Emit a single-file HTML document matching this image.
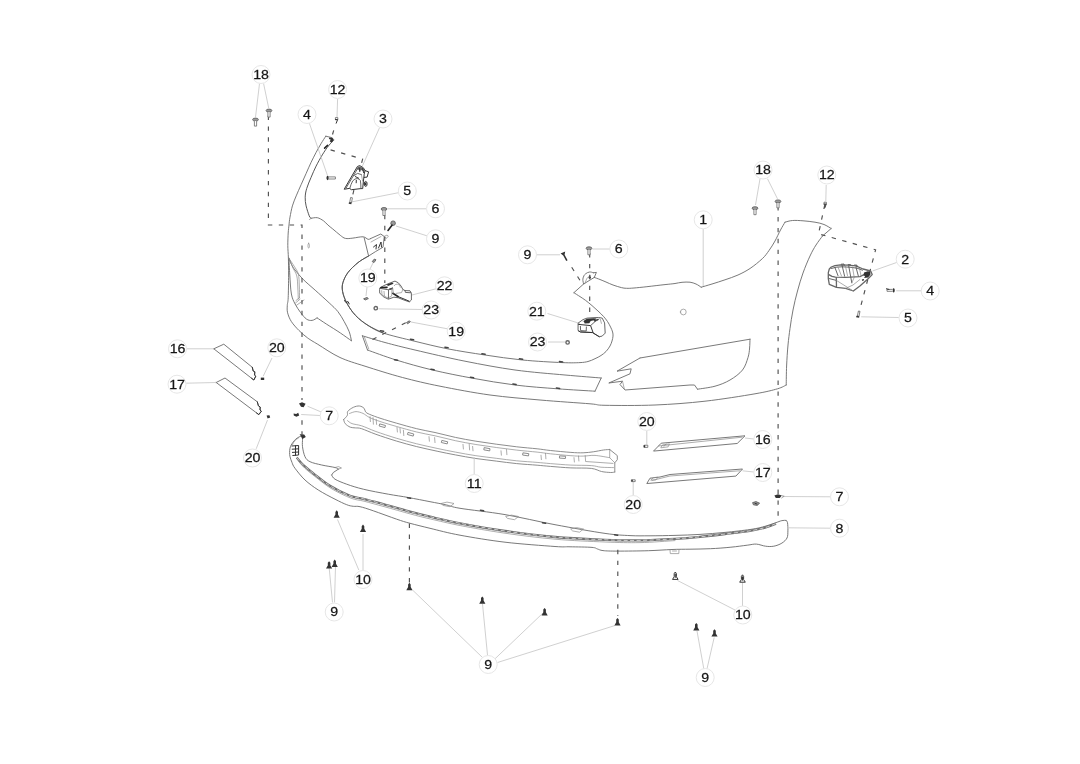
<!DOCTYPE html>
<html><head><meta charset="utf-8"><title>Front bumper parts diagram</title>
<style>
html,body{margin:0;padding:0;background:#fff}
svg{display:block;filter:grayscale(1)}
text{font-family:"Liberation Sans",Arial,Helvetica,sans-serif;font-size:13.5px;fill:#161616;stroke:#161616;stroke-width:0.25px;text-anchor:middle}
.lc{fill:#fff;stroke:#e6e6e6;stroke-width:1}
.ld{stroke:#cbcbcb;stroke-width:0.9;fill:none}
.ds{stroke:#505050;stroke-width:1.15;fill:none;stroke-dasharray:4.4 6.5}
.m{stroke:#6a6a6a;stroke-width:0.9;fill:none;stroke-linejoin:round;stroke-linecap:round}
.g{stroke:#808080;stroke-width:0.9;fill:none;stroke-linejoin:round;stroke-linecap:round}
.t{stroke:#8a8a8a;stroke-width:0.7;fill:none;stroke-linejoin:round;stroke-linecap:round}
.k{stroke:#333;stroke-width:1;fill:none;stroke-linejoin:round;stroke-linecap:round}
.f{fill:#333;stroke:none}
.so{fill:#fff;stroke:#333;stroke-width:1;stroke-linejoin:round}
.f2{fill:#666;stroke:none}
.bh{fill:#9a9a9a;stroke:#555;stroke-width:0.8;stroke-linejoin:round}
.bs{fill:#fff;stroke:#666;stroke-width:0.8;stroke-linejoin:round}
.w{fill:#fff;stroke:#666;stroke-width:1.4}
.kk{stroke:#222;stroke-width:1.6;fill:none;stroke-linejoin:round;stroke-linecap:round}
.k3{stroke:#666;stroke-width:1.3;fill:none;stroke-linejoin:round;stroke-linecap:round}
.k2{stroke:#555;stroke-width:0.9;fill:none;stroke-linejoin:round;stroke-linecap:round}
.c{stroke:#444;stroke-width:1.5;fill:none;stroke-linecap:round}
.s1{stroke:#707070;stroke-width:2.3;fill:none;stroke-linejoin:round}
.s2{stroke:#e4e4e4;stroke-width:0.8;fill:none;stroke-dasharray:4 2.5}
.m2{stroke:#555;stroke-width:1;fill:none;stroke-linejoin:round;stroke-linecap:round}
</style></head><body>
<svg width="1080" height="764" viewBox="0 0 1080 764">
<rect width="1080" height="764" fill="#fff"/>

<path class="m" d="M325.8 136.2L332.2 137.7L333.5 140.0"/>
<path class="m" d="M325.8 136.2C325.0 137.4 322.6 141.0 321.0 143.7C319.4 146.4 317.8 149.3 316.1 152.4C314.5 155.5 312.8 158.8 311.1 162.3C309.4 165.8 307.8 169.8 306.1 173.5C304.4 177.2 302.8 181.0 301.1 184.7C299.5 188.4 297.6 192.4 296.2 195.9C294.8 199.4 293.4 202.4 292.4 205.9C291.4 209.4 290.6 213.9 290.0 217.1C289.4 220.3 289.3 222.3 289.0 225.0C288.7 227.7 288.4 229.6 288.2 233.0C288.0 236.4 287.8 241.2 287.8 245.4C287.8 249.6 288.3 253.1 288.4 258.0C288.5 262.9 288.6 268.4 288.6 275.0C288.6 281.6 288.4 292.8 288.2 297.8C288.0 302.9 287.4 302.8 287.3 305.3C287.2 307.8 286.9 310.1 287.6 312.8C288.3 315.5 289.5 318.7 291.4 321.6C293.3 324.5 296.2 327.7 298.9 330.4C301.6 333.1 304.5 335.7 307.7 338.0C310.9 340.3 312.4 341.1 317.8 344.3C323.2 347.6 332.1 353.9 340.0 357.5C347.9 361.1 354.6 362.9 365.0 366.2C375.4 369.5 390.0 374.2 402.5 377.5C415.0 380.8 425.4 383.3 440.0 386.2C454.6 389.1 473.3 392.7 490.0 395.0C506.7 397.3 523.3 398.5 540.0 400.0C556.7 401.5 579.2 402.9 590.0 403.8C600.8 404.7 594.2 405.1 605.0 405.3C615.8 405.5 638.3 405.7 655.0 405.0C671.7 404.3 688.3 403.1 705.0 401.2C721.7 399.3 742.9 395.9 755.0 393.8C767.1 391.7 772.3 390.3 777.5 388.8C782.7 387.3 784.8 385.6 786.2 385.0"/>
<path class="m" d="M786.2 385.0C786.3 381.8 786.3 372.7 786.6 366.0C786.9 359.3 787.4 351.2 788.0 345.0C788.6 338.8 789.2 334.3 790.0 328.5C790.8 322.7 791.8 316.2 793.0 310.0C794.2 303.8 795.8 297.2 797.5 291.0C799.2 284.8 800.9 278.8 803.0 273.0C805.1 267.2 807.8 260.7 810.0 256.0C812.2 251.3 813.9 248.3 816.0 245.0C818.1 241.7 821.4 237.5 822.5 236.0"/>
<path class="m" d="M822.5 236.0L831.2 228.5"/>
<path class="m" d="M831.2 228.5C830.0 227.8 826.7 225.6 824.0 224.5C821.3 223.4 818.5 222.8 815.0 222.2C811.5 221.6 806.8 221.1 803.0 220.8C799.2 220.5 795.5 220.3 792.5 220.5C789.5 220.7 786.2 221.9 785.0 222.2"/>
<path class="m" d="M785.0 222.2C784.2 223.5 782.2 226.9 780.5 230.0C778.8 233.1 776.9 237.6 775.0 241.0C773.1 244.4 771.1 247.6 769.0 250.5C766.9 253.4 765.7 255.5 762.5 258.5C759.3 261.5 754.1 265.8 750.0 268.5C745.9 271.2 742.2 273.1 738.0 275.0C733.8 276.9 729.3 278.3 725.0 279.8C720.7 281.3 716.0 282.8 712.0 284.0C708.0 285.2 703.0 286.7 701.2 287.2"/>
<path class="m" d="M701.2 287.2C700.3 286.7 697.9 284.8 696.0 284.0C694.1 283.2 692.3 282.5 690.0 282.2C687.7 281.9 684.5 282.1 682.0 282.3C679.5 282.5 677.8 283.1 675.0 283.5C672.2 283.9 669.7 284.1 665.0 284.6C660.3 285.1 652.1 286.1 646.9 286.7C641.7 287.3 637.4 287.7 634.0 288.0C630.6 288.3 628.6 288.4 626.5 288.3C624.4 288.2 623.6 288.2 621.4 287.6C619.1 287.1 615.6 285.9 613.0 285.0C610.4 284.1 608.2 282.9 606.0 282.0C603.8 281.1 602.0 280.3 600.0 279.5C598.0 278.7 595.2 277.8 594.3 277.4"/>
<path class="m" d="M594.3 277.4L583.6 284.0L573.9 292.7"/>
<path class="m" d="M583.6 284.0C583.5 283.4 583.0 281.5 582.9 280.5C582.8 279.5 582.9 278.7 583.1 277.9C583.3 277.1 583.6 276.3 584.0 275.6C584.4 274.9 585.0 274.3 585.6 273.8C586.2 273.3 586.8 272.9 587.5 272.6C588.2 272.3 589.0 272.1 589.7 272.0C590.4 271.9 591.0 272.1 591.6 272.2C592.2 272.3 593.0 272.7 593.3 272.8"/>
<path class="m" d="M593.3 272.8L596.4 272.4L594.3 277.4"/>
<path class="t" d="M585.0 283.2L586.8 278.4L590.4 275.6"/>
<path class="f" d="M588.6 277.4a1.2 1.2 0 1 0 2.4 0a1.2 1.2 0 1 0 -2.4 0z"/>
<path class="m" d="M573.9 292.7C574.9 293.4 578.0 295.3 580.0 296.6C582.0 297.9 583.6 298.9 585.6 300.4C587.6 301.9 589.9 303.8 592.0 305.6C594.1 307.4 596.1 309.2 598.0 311.0C599.9 312.8 601.8 314.6 603.4 316.3C605.0 318.1 606.3 319.7 607.5 321.5C608.7 323.3 609.8 325.4 610.6 327.1C611.5 328.9 612.2 330.5 612.6 332.0C613.0 333.5 613.1 334.6 613.0 336.1C612.9 337.6 612.5 339.4 612.0 341.0C611.5 342.6 611.0 344.2 610.0 346.0C609.0 347.8 607.5 349.9 606.0 351.5C604.5 353.1 602.8 354.3 601.0 355.5C599.2 356.7 597.2 357.7 595.0 358.7C592.8 359.7 590.5 360.9 588.0 361.5C585.5 362.1 584.2 362.4 580.0 362.6C575.8 362.8 572.1 363.0 562.5 362.6C552.9 362.2 535.4 361.3 522.5 360.0C509.6 358.7 497.5 356.9 485.0 355.0C472.5 353.1 459.2 351.1 447.5 348.8C435.8 346.5 425.7 343.9 415.0 341.3C404.3 338.7 390.9 335.6 383.1 333.0C375.3 330.4 372.6 328.3 368.0 325.4C363.4 322.5 359.1 319.2 355.5 315.4C351.9 311.6 348.8 306.8 346.7 302.8C344.6 298.8 343.2 294.9 342.6 291.5C342.0 288.1 342.0 285.8 342.9 282.7C343.8 279.6 345.4 276.0 347.9 272.6C350.4 269.2 354.6 265.4 358.0 262.6C361.4 259.8 366.8 257.1 368.6 256.0"/>
<path class="m2" d="M383.1 333.0C380.6 331.7 372.6 328.3 368.0 325.4C363.4 322.5 359.1 319.2 355.5 315.4C351.9 311.6 348.8 306.8 346.7 302.8C344.6 298.8 343.2 294.9 342.6 291.5C342.0 288.1 342.0 285.8 342.9 282.7C343.8 279.6 345.4 276.0 347.9 272.6C350.4 269.2 354.6 265.4 358.0 262.6C361.4 259.8 366.8 257.1 368.6 256.0"/>
<path class="m" d="M364.2 237.8L368.6 256.0L375.5 251.6L383.0 247.2L384.3 236.6L380.8 234.0L370.5 238.6"/>
<path class="t" d="M371.0 242.0L381.0 236.5"/>
<path class="k" d="M373.5 247.0L376.5 244.5L376.0 249.0"/>
<path class="k" d="M378.5 248.0L381.0 242.0L381.5 247.0"/>
<path class="t" d="M384.5 236.2l2.6-1.2l1.3 1.4l-2 1.8z"/>
<path class="m2" d="M333.5 140.0C332.5 141.2 329.2 144.9 327.3 147.4C325.4 149.9 324.2 151.8 322.3 154.9C320.4 158.0 318.0 162.4 316.1 166.1C314.2 169.8 312.7 173.6 311.1 177.3C309.5 181.0 307.7 185.2 306.7 188.5C305.7 191.8 305.3 194.3 305.2 197.2C305.1 200.1 305.4 202.8 306.1 205.9C306.8 209.0 308.4 213.7 309.2 215.8C310.0 217.9 310.8 217.9 311.1 218.3"/>
<path class="f" d="M329.3 137.4l3.6 0.8l0.6 2.2l-1.6 2.2l-2.2-1.2l1-1.8l-1.8-0.6z"/>
<path class="kk" d="M324.6 148.2L327.6 145.4"/>
<path class="m" d="M311.1 218.3C312.1 218.2 315.2 217.3 317.3 217.7C319.4 218.1 321.7 219.6 323.5 220.8C325.3 222.0 326.3 223.6 327.9 225.0C329.4 226.4 330.7 227.3 332.8 229.0C334.9 230.7 338.2 233.7 340.3 235.3C342.4 236.9 343.3 237.9 345.4 238.4C347.5 238.9 350.0 238.4 352.9 238.1C355.8 237.8 360.5 236.6 363.0 236.8C365.5 237.0 366.8 239.0 368.0 239.3C369.2 239.6 370.1 238.7 370.5 238.6"/>
<path class="t" d="M311.1 218.3L309.4 219.6"/>
<path class="t" d="M308.7 243.2c1 0 1.1 4.8 0 4.8c-1.1 0-1-4.8 0-4.8z"/>
<path class="m" d="M288.9 258.2C289.3 259.2 290.5 262.5 291.5 264.5C292.5 266.5 293.1 267.6 295.1 270.1C297.1 272.6 300.0 276.1 303.3 279.5C306.6 282.9 310.9 286.3 315.2 290.2C319.5 294.1 325.3 299.2 329.1 302.8C332.9 306.4 335.4 308.5 337.9 311.6C340.4 314.7 342.3 318.2 344.2 321.6C346.1 325.0 348.0 328.6 349.2 331.7C350.4 334.8 351.0 339.0 351.4 340.5"/>
<path class="m" d="M351.4 340.8C349.6 339.5 344.5 335.8 340.4 333.0C336.3 330.2 330.5 326.7 326.6 324.2C322.7 321.7 318.7 318.9 317.1 317.9"/>
<path class="m" d="M317.1 317.9C316.3 318.3 313.9 320.2 312.1 320.4C310.3 320.6 308.4 320.4 306.5 319.1C304.6 317.8 302.7 315.3 300.8 312.8C298.9 310.3 296.7 307.1 295.1 304.0C293.5 300.9 292.3 298.8 291.4 294.0C290.5 289.2 290.2 281.1 289.8 275.1C289.4 269.1 289.0 261.0 288.9 258.2"/>
<path class="t" d="M288.9 258.2C289.8 259.5 292.4 263.4 294.0 266.0C295.6 268.6 297.4 270.6 298.3 273.9C299.2 277.2 299.1 282.0 299.3 286.0C299.5 290.0 299.5 295.8 299.5 297.8"/>
<path class="t" d="M288.9 258.2C289.6 259.8 291.7 265.0 293.0 268.0C294.3 271.0 296.0 272.7 296.8 276.0C297.6 279.3 297.6 284.2 297.8 288.0C298.1 291.8 298.2 297.2 298.3 299.0"/>
<path class="t" d="M295.5 303.0L300.0 299.2"/>
<path class="t" d="M296.6 305.2L304.0 300.0"/>
<path class="t" d="M299.5 297.8L296.0 300.5"/>
<path class="t" d="M680.4 312a2.9 2.9 0 1 0 5.8 0a2.9 2.9 0 1 0 -5.8 0z"/>
<path class="m" d="M640.0 358.0L750.0 339.2"/>
<path class="m" d="M750.0 339.2C749.9 340.7 749.9 344.9 749.6 348.0C749.3 351.1 749.2 353.8 748.0 357.5C746.8 361.2 745.5 366.2 742.5 370.0C739.5 373.8 734.6 377.3 730.0 380.0C725.4 382.7 720.4 384.7 715.0 386.2C709.6 387.7 700.4 388.7 697.5 389.2"/>
<path class="m" d="M697.5 389.2L694.5 385.0L690.0 385.0L625.0 390.0L620.0 384.5L622.5 381.2L608.8 383.0L630.0 373.8L631.2 368.8L617.0 371.2L640.0 358.0"/>
<path class="t" d="M622.5 381.2L624.5 389.5"/>
<path class="m" d="M362.4 335.8C366.2 336.9 376.2 340.1 385.0 342.5C393.8 344.9 401.7 346.9 415.0 350.0C428.3 353.1 448.3 357.9 465.0 361.2C481.7 364.5 498.3 367.7 515.0 370.0C531.7 372.3 550.6 373.7 565.0 375.0C579.4 376.3 595.2 377.5 601.2 378.0"/>
<path class="m" d="M595.0 391.2C588.8 390.8 570.8 389.8 557.5 388.8C544.2 387.8 529.2 386.8 515.0 385.0C500.8 383.2 486.2 380.7 472.5 378.2C458.8 375.7 445.2 373.0 432.5 370.0C419.8 367.0 407.0 363.3 396.2 360.0C385.4 356.7 372.3 351.7 367.5 350.0"/>
<path class="m" d="M601.2 378.0L595.0 391.2"/>
<path class="m" d="M362.4 335.8L367.5 350.0"/>
<path class="t" d="M364.4 337.0L368.8 349.0"/>
<path class="c" d="M380.4 330.7L383.6 331.3"/>
<path class="c" d="M410.4 339.2L413.6 339.8"/>
<path class="c" d="M444.9 347.2L448.1 347.8"/>
<path class="c" d="M481.9 353.7L485.1 354.3"/>
<path class="c" d="M519.4 358.7L522.6 359.3"/>
<path class="c" d="M559.4 361.5L562.6 362.1"/>
<path class="c" d="M394.4 359.7L397.6 360.3"/>
<path class="c" d="M430.9 369.2L434.1 369.8"/>
<path class="c" d="M470.4 377.2L473.6 377.8"/>
<path class="c" d="M512.9 384.0L516.1 384.6"/>
<path class="c" d="M556.4 388.0L559.6 388.6"/>
<path class="k" d="M344.5 300.5l1.5 2.2l2-1.2l1.2 2.4"/>
<path class="g" d="M343.7 419.5C344.3 418.8 346.6 416.8 347.3 415.4C348.0 414.0 346.8 412.6 347.8 411.3C348.8 410.0 351.4 408.2 353.4 407.3C355.3 406.4 357.7 405.8 359.5 406.0C361.3 406.2 363.1 407.3 364.1 408.3C365.1 409.3 364.7 410.9 365.6 411.9C366.5 412.9 367.1 413.3 369.7 414.4C372.3 415.5 376.6 417.1 381.0 418.5C385.4 419.9 390.4 421.4 396.3 423.1C402.2 424.8 410.2 427.1 416.7 428.7C423.1 430.3 428.6 431.1 435.0 432.5C441.4 433.9 448.6 435.9 455.4 437.4C462.2 438.8 469.1 440.1 475.9 441.2C482.7 442.3 489.5 443.3 496.3 444.2C503.1 445.1 509.9 446.0 516.7 446.8C523.5 447.6 531.5 448.2 537.1 448.8C542.7 449.4 544.8 449.9 550.4 450.5C556.0 451.1 565.4 452.0 570.9 452.4C576.4 452.8 579.4 452.9 583.1 452.8C586.8 452.7 589.9 452.3 593.3 451.8C596.7 451.3 600.8 450.4 603.5 450.0C606.2 449.6 608.7 449.6 609.7 449.5"/>
<path class="g" d="M609.7 449.5L617.3 455.6L617.3 459.7L614.8 462.8L614.8 472.0"/>
<path class="g" d="M343.7 419.5C343.9 420.2 344.1 422.3 345.2 423.6C346.3 424.9 348.6 426.5 350.3 427.2C352.0 427.9 353.5 427.6 355.4 427.9C357.3 428.1 358.2 427.6 361.6 428.7C365.0 429.8 370.1 432.2 375.9 434.3C381.7 436.4 389.5 438.9 396.3 441.0C403.1 443.1 409.9 444.9 416.7 446.6C423.5 448.3 430.7 449.8 437.1 451.2C443.6 452.6 448.9 453.7 455.4 454.9C461.9 456.1 469.1 457.5 475.9 458.5C482.7 459.5 489.5 460.2 496.3 461.1C503.1 462.0 509.9 462.9 516.7 463.6C523.5 464.3 531.5 464.7 537.1 465.2C542.7 465.7 544.8 465.9 550.4 466.4C556.0 466.8 564.1 467.6 570.9 467.9C577.7 468.2 586.2 467.8 591.3 468.4C596.4 469.0 598.3 470.8 601.5 471.5C604.7 472.2 608.5 472.4 610.7 472.5C612.9 472.6 614.1 472.1 614.8 472.0"/>
<path class="t" d="M349.5 413.5C350.6 413.2 353.8 411.6 356.0 411.6C358.2 411.6 360.7 412.4 363.0 413.4C365.3 414.4 366.7 416.2 369.7 417.6C372.7 419.0 376.6 420.3 381.0 421.8C385.4 423.3 390.4 424.7 396.3 426.4C402.2 428.1 410.2 430.4 416.7 432.0C423.1 433.6 428.6 434.4 435.0 435.8C441.4 437.2 448.6 439.2 455.4 440.7C462.2 442.1 469.1 443.4 475.9 444.5C482.7 445.6 489.5 446.6 496.3 447.5C503.1 448.4 509.9 449.3 516.7 450.1C523.5 450.9 531.5 451.5 537.1 452.1C542.7 452.7 544.8 453.2 550.4 453.8C556.0 454.4 565.4 455.3 570.9 455.7C576.4 456.1 579.1 456.2 583.1 456.1C587.1 456.1 590.6 455.1 595.0 455.4C599.4 455.7 607.2 457.3 609.7 457.7"/>
<path class="t" d="M347.5 420.6C348.2 421.1 349.6 422.7 352.0 423.6C354.4 424.5 357.6 424.5 361.6 425.8C365.6 427.1 370.1 429.4 375.9 431.5C381.7 433.6 389.5 436.1 396.3 438.2C403.1 440.2 409.9 442.1 416.7 443.8C423.5 445.5 430.7 447.0 437.1 448.4C443.6 449.8 448.9 450.9 455.4 452.1C461.9 453.3 469.1 454.7 475.9 455.7C482.7 456.7 489.5 457.4 496.3 458.3C503.1 459.2 509.9 460.1 516.7 460.8C523.5 461.5 531.5 461.9 537.1 462.4C542.7 462.9 544.8 463.1 550.4 463.6C556.0 464.0 564.1 464.8 570.9 465.1C577.7 465.4 586.3 465.2 591.3 465.6C596.3 465.9 597.3 466.9 601.0 467.2C604.7 467.5 611.4 467.5 613.5 467.6"/>
<path class="t" d="M585.2 455.6L585.6 461.5L613.0 463.4"/>
<path class="t" d="M609.7 449.5L609.7 457.7L614.8 462.8"/>
<path class="g" d="M380.1 424.0L385.5 425.5L384.9 427.6L379.5 426.1Z"/>
<path class="g" d="M408.4 432.5L413.8 434.0L413.2 436.1L407.8 434.6Z"/>
<path class="g" d="M442.2 440.5L447.7 441.8L447.2 443.9L441.7 442.6Z"/>
<path class="g" d="M484.5 447.7L490.0 448.7L489.7 450.9L484.2 449.9Z"/>
<path class="g" d="M523.3 452.9L528.8 453.7L528.5 455.9L523.0 455.1Z"/>
<path class="g" d="M560.0 455.9L565.6 456.3L565.4 458.5L559.8 458.1Z"/>
<path class="t" d="M370 416.6l0.4 5"/>
<path class="t" d="M373 417.6l0.4 6.6"/>
<path class="t" d="M376.2 419.4l0.4 5"/>
<path class="t" d="M397 427.4l0.4 4.6"/>
<path class="t" d="M400 428.4l0.4 4.6"/>
<path class="t" d="M403.4 430.2l0.4 5.4"/>
<path class="t" d="M429 436.6l0.4 4.6"/>
<path class="t" d="M434.6 437.6l0.4 5"/>
<path class="t" d="M463 444.4l0.4 4.6"/>
<path class="t" d="M469.2 443.9l0.4 6"/>
<path class="t" d="M472.6 446.4l0.4 4.4"/>
<path class="t" d="M501 450.8l0.4 4.4"/>
<path class="t" d="M506.5 449.5l0.4 5.2"/>
<path class="t" d="M541 455.2l0.4 4.4"/>
<path class="t" d="M545.5 453.4l0.4 5.4"/>
<path class="t" d="M574 457.6l0.4 4.4"/>
<path class="t" d="M578.5 456l0.4 5"/>
<path class="m" d="M301.7 435.8C301.0 436.1 298.8 437.0 297.5 437.8C296.2 438.6 295.2 439.6 294.2 440.8C293.1 442.0 291.9 443.8 291.2 445.0C290.5 446.2 290.3 447.1 290.0 448.3C289.7 449.6 289.6 451.1 289.6 452.5C289.6 453.9 289.6 455.0 290.0 456.7C290.4 458.4 291.2 460.6 292.0 462.5C292.8 464.4 292.8 465.4 295.0 468.3C297.2 471.2 301.1 476.4 305.0 480.0C308.9 483.6 313.3 486.8 318.3 490.0C323.3 493.2 330.3 496.8 335.0 499.2C339.7 501.6 343.6 503.5 346.7 504.7C349.8 505.9 351.1 506.0 353.3 506.3C355.5 506.6 356.7 505.9 360.0 506.7C363.3 507.4 367.2 508.7 373.3 510.8C379.4 512.9 390.6 517.1 396.7 519.2C402.8 521.3 404.4 521.8 410.0 523.3C415.6 524.8 421.7 526.3 430.0 528.3C438.3 530.3 447.5 532.9 460.0 535.2C472.5 537.5 489.2 540.3 505.0 542.2C520.8 544.1 544.2 545.7 555.0 546.5C565.8 547.3 563.8 546.6 570.0 546.8C576.2 546.9 587.4 547.0 592.0 547.4C596.6 547.8 595.7 548.5 597.5 549.0C599.3 549.5 599.6 550.2 603.0 550.6C606.4 551.0 610.2 551.1 617.8 551.1C625.4 551.1 639.5 551.0 648.5 550.7C657.5 550.4 665.1 549.8 672.0 549.5C678.9 549.2 683.6 549.3 690.0 549.2C696.4 549.1 703.6 549.0 710.4 548.7C717.2 548.4 724.8 547.8 730.9 547.2C737.0 546.6 743.0 545.7 747.2 545.2C751.5 544.7 753.3 543.9 756.4 544.1C759.5 544.3 762.7 545.9 765.6 546.2C768.5 546.6 771.1 546.7 773.8 546.2C776.5 545.7 779.7 544.5 781.9 543.1C784.1 541.7 786.0 540.0 787.0 538.0C788.0 536.0 787.8 533.4 787.9 530.9C788.0 528.4 787.8 524.5 787.5 522.7C787.2 521.0 786.2 520.8 786.0 520.4"/>
<path class="m" d="M786.0 520.4C785.3 520.4 783.7 520.2 781.9 520.6C780.1 521.0 778.2 521.9 775.0 523.0C771.8 524.1 766.7 525.9 762.5 527.0C758.3 528.1 756.2 528.6 750.0 529.5C743.8 530.4 733.3 531.6 725.0 532.4C716.7 533.2 708.3 533.9 700.0 534.4C691.7 534.9 683.3 535.2 675.0 535.4C666.7 535.6 657.5 535.8 650.0 535.8C642.5 535.8 637.5 536.0 630.0 535.6C622.5 535.2 617.5 535.2 605.0 533.4C592.5 531.6 571.7 527.8 555.0 524.7C538.3 521.6 520.8 517.3 505.0 514.6C489.2 511.9 469.7 509.9 460.0 508.3C450.3 506.7 451.7 506.1 446.7 505.0C441.7 503.9 436.4 502.9 430.0 501.7C423.6 500.4 415.2 498.8 408.3 497.5C401.4 496.2 395.8 495.6 388.3 494.2C380.8 492.8 370.2 490.9 363.3 489.2C356.4 487.5 351.4 485.9 346.7 484.2C342.0 482.5 337.5 480.7 335.0 479.2C332.5 477.7 332.2 475.7 331.7 475.0"/>
<path class="m" d="M331.7 475.0L333.3 472.5L338.3 469.2"/>
<path class="m" d="M338.3 469.2C337.8 468.9 337.8 468.2 335.0 467.5C332.2 466.8 325.9 466.0 321.7 465.0C317.5 464.0 312.8 463.1 310.0 461.7C307.2 460.3 306.2 459.2 305.0 456.7C303.8 454.2 302.9 449.6 302.5 446.7C302.1 443.8 302.6 441.0 302.5 439.2C302.4 437.4 301.8 436.4 301.7 435.8"/>
<path class="t" d="M335.0 467.5L338.6 466.6L341.5 468.0L338.3 469.2"/>
<path class="s1" d="M296.7 457.5C297.8 458.8 300.5 462.4 303.3 465.0C306.1 467.6 308.9 469.8 313.3 473.3C317.8 476.8 323.9 482.1 330.0 485.8C336.1 489.6 344.4 493.6 350.0 495.8C355.6 498.0 357.8 497.4 363.3 498.8C368.9 500.2 375.5 502.1 383.3 504.2C391.1 506.3 402.2 509.6 410.0 511.7C417.8 513.8 421.7 514.8 430.0 516.7C438.3 518.6 447.5 520.9 460.0 523.3C472.5 525.7 489.2 528.7 505.0 531.0C520.8 533.3 538.3 535.5 555.0 537.0C571.7 538.5 590.8 539.2 605.0 539.8C619.2 540.4 628.3 540.6 640.0 540.4C651.7 540.2 665.0 539.4 675.0 538.8C685.0 538.2 691.7 537.6 700.0 536.8C708.3 536.0 716.7 535.0 725.0 534.0C733.3 533.0 743.3 531.9 750.0 530.8C756.7 529.7 760.7 528.8 765.0 527.6C769.3 526.4 774.2 524.3 776.0 523.6"/>
<path class="s2" d="M296.7 457.5C297.8 458.8 300.5 462.4 303.3 465.0C306.1 467.6 308.9 469.8 313.3 473.3C317.8 476.8 323.9 482.1 330.0 485.8C336.1 489.6 344.4 493.6 350.0 495.8C355.6 498.0 357.8 497.4 363.3 498.8C368.9 500.2 375.5 502.1 383.3 504.2C391.1 506.3 402.2 509.6 410.0 511.7C417.8 513.8 421.7 514.8 430.0 516.7C438.3 518.6 447.5 520.9 460.0 523.3C472.5 525.7 489.2 528.7 505.0 531.0C520.8 533.3 538.3 535.5 555.0 537.0C571.7 538.5 590.8 539.2 605.0 539.8C619.2 540.4 628.3 540.6 640.0 540.4C651.7 540.2 665.0 539.4 675.0 538.8C685.0 538.2 691.7 537.6 700.0 536.8C708.3 536.0 716.7 535.0 725.0 534.0C733.3 533.0 743.3 531.9 750.0 530.8C756.7 529.7 760.7 528.8 765.0 527.6C769.3 526.4 774.2 524.3 776.0 523.6"/>
<path class="t" d="M298.0 460.8C299.1 462.0 301.8 465.4 304.6 468.0C307.4 470.6 310.2 472.8 314.6 476.2C319.0 479.6 324.9 484.7 331.0 488.4C337.1 492.1 345.5 496.1 351.0 498.2C356.5 500.3 358.5 499.8 364.0 501.2C369.5 502.6 376.2 504.5 384.0 506.6C391.8 508.7 402.8 511.9 410.5 514.0C418.2 516.1 422.2 517.1 430.5 519.0C438.8 520.9 448.1 523.2 460.5 525.6C472.9 528.0 489.2 530.9 505.0 533.2C520.8 535.5 538.3 537.7 555.0 539.2C571.7 540.7 590.8 541.4 605.0 542.0C619.2 542.6 628.3 542.8 640.0 542.6C651.7 542.4 669.2 540.9 675.0 540.6"/>
<path class="f" d="M299.6 434.2l4.6 0.2l1.6 2.6l-3.4 2l-1.2-2.4z"/>
<path class="k" d="M292.0 446.0L298.6 445.5L298.6 455.0L292.8 455.5"/>
<path class="k" d="M292.2 449.2L298.6 448.8"/>
<path class="k" d="M292.4 452.4L298.6 452.0"/>
<path class="k" d="M295.5 445.8L295.5 455.2"/>
<path class="t" d="M298.5 438.0C297.8 438.5 295.6 439.7 294.5 441.0C293.4 442.3 292.4 445.2 292.0 446.0"/>
<path class="t" d="M441.5 503.4l5.5 -1.3l7 1.4l-4 3.2l-6.5 -1.2z"/>
<path class="t" d="M506 516.4l5.5 -1.3l7 1.4l-4 3.2l-6.5 -1.2z"/>
<path class="t" d="M571 528.9l5.5 -1.3l7 1.4l-4 3.2l-6.5 -1.2z"/>
<path class="c" d="M407.4 497.7L410.6 498.3"/>
<path class="c" d="M480.4 510.2L483.6 510.8"/>
<path class="c" d="M542.4 522.7L545.6 523.3"/>
<path class="c" d="M614.4 534.7L617.6 535.3"/>
<path class="t" d="M670.0 549.8L670.3 553.6L678.8 553.6L679.0 549.5"/>
<path class="t" d="M672.5 551.0L676.5 551.0"/>
<path class="m" d="M213.8 348.8L223.8 344.2L252.3 367.3L253.2 371.0L254.8 371.8L254.6 375.2L255.8 376.2L253.8 380.0L213.8 348.8"/>
<path class="k" d="M252.3 367.3L253.2 371.0L254.8 371.8L254.6 375.2L255.8 376.2L253.8 380.0L251.5 378.2"/>
<path class="m" d="M216.2 382.5L225.0 378.0L257.3 401.8L258.4 405.8L260.2 407.0L260.0 410.0L261.4 411.2L258.8 414.6L216.2 382.5"/>
<path class="k" d="M257.3 401.8L258.4 405.8L260.2 407.0L260.0 410.0L261.4 411.2L258.8 414.6L256.5 412.9"/>
<path class="m" d="M653.8 450.8L661.2 443.2L745.0 435.8L737.5 443.2Z"/>
<path class="t" d="M658.5 446.0L742.0 437.2"/>
<path class="t" d="M661 447.5l1.5-2.6l7-1l-1.2 2.6zM664 446.4l2-2.4"/>
<path class="m" d="M647.0 483.2L650.0 478.2L660.0 477.0L670.0 474.5L742.5 469.0L736.2 475.8Z"/>
<path class="t" d="M652.0 480.5L670.0 476.0L739.5 470.8"/>
<path class="t" d="M651 479.8l2.5-2.2l4.5-.4l-1.8 2.4z"/>
<g class="ld">
<line x1="259.5" y1="83.6" x2="255.5" y2="117.2"/>
<line x1="263.6" y1="83.6" x2="268.7" y2="108"/>
<line x1="337.6" y1="98.9" x2="337" y2="117.2"/>
<line x1="309.4" y1="123.3" x2="327.4" y2="175.3"/>
<line x1="379.7" y1="127.4" x2="362.4" y2="166"/>
<line x1="399" y1="192.6" x2="352.2" y2="201.8"/>
<line x1="387.5" y1="208.8" x2="426.2" y2="208.8"/>
<line x1="396" y1="226" x2="427.5" y2="236"/>
<line x1="369.5" y1="270" x2="373" y2="263"/>
<line x1="367" y1="287" x2="366" y2="296"/>
<line x1="412" y1="295" x2="436" y2="288.8"/>
<line x1="378.8" y1="308.8" x2="422.5" y2="309.5"/>
<line x1="411" y1="322" x2="447.5" y2="328.8"/>
<line x1="186.8" y1="348.8" x2="213.8" y2="348.8"/>
<line x1="186.2" y1="383.2" x2="216.2" y2="382.5"/>
<line x1="272" y1="358" x2="263.2" y2="376.2"/>
<line x1="256.2" y1="448.8" x2="267.5" y2="420"/>
<line x1="307.5" y1="406.2" x2="321.2" y2="412"/>
<line x1="301.2" y1="414.5" x2="320" y2="415.5"/>
<line x1="474.2" y1="457" x2="474.2" y2="474.5"/>
<line x1="337.5" y1="519.5" x2="358.8" y2="570"/>
<line x1="363" y1="534" x2="363" y2="570"/>
<line x1="332.5" y1="602.5" x2="329.2" y2="568"/>
<line x1="334.5" y1="602.5" x2="335.5" y2="566.2"/>
<line x1="482.5" y1="657.5" x2="412.5" y2="590"/>
<line x1="487.5" y1="655" x2="482.5" y2="604"/>
<line x1="495" y1="658.8" x2="543" y2="613"/>
<line x1="497.5" y1="662.5" x2="615" y2="625.5"/>
<line x1="536.2" y1="254.8" x2="560" y2="254.8"/>
<line x1="592.5" y1="249" x2="610" y2="249"/>
<line x1="547.5" y1="313.5" x2="580" y2="323.5"/>
<line x1="548" y1="342" x2="565" y2="342"/>
<line x1="703.2" y1="228.5" x2="703.2" y2="286"/>
<line x1="760" y1="178.8" x2="755.5" y2="205"/>
<line x1="767.5" y1="178.8" x2="777.5" y2="198.8"/>
<line x1="826.2" y1="185" x2="825.8" y2="201.2"/>
<line x1="872.5" y1="271" x2="897.5" y2="262.2"/>
<line x1="896.2" y1="290.8" x2="921.2" y2="290.8"/>
<line x1="861.2" y1="316.8" x2="898.8" y2="317.5"/>
<line x1="646.8" y1="430.8" x2="646.8" y2="444.5"/>
<line x1="633.2" y1="495.8" x2="633.2" y2="482"/>
<line x1="745" y1="438" x2="753.8" y2="439"/>
<line x1="742.5" y1="470.8" x2="753.8" y2="472"/>
<line x1="782.5" y1="496.5" x2="830.5" y2="496.8"/>
<line x1="787.5" y1="527.8" x2="830" y2="528.2"/>
<line x1="677.5" y1="580.5" x2="735" y2="610"/>
<line x1="742.5" y1="582.5" x2="742.5" y2="606"/>
<line x1="697" y1="631" x2="703.8" y2="668.8"/>
<line x1="714.2" y1="637.5" x2="707" y2="668.8"/>
</g>
<g class="ds">
<path d="M268.4 115.5V225H302V400"/>
<path d="M302 420.3V436"/>
<path d="M333.7 130.3L332.5 134.5"/>
<path d="M330.6 149.9L362.6 159.1L360.8 166"/>
<path d="M353.9 190.2L352.6 195.5"/>
<path d="M384.8 214.9V283"/>
<path d="M405.7 322.8L371.5 339.9"/>
<path d="M409.4 523.6V583"/>
<path d="M617.8 549.8V616"/>
<path d="M571.7 267.3L580.4 281"/>
<path d="M589.7 253V318"/>
<path d="M778.1 206.1V517"/>
<path d="M824.8 204.7L819.2 230.6"/>
<path d="M821.2 234.6L875.6 249.8L858.8 313.5"/>
</g>
<path class="bh" d="M252.6 119.6a2.9 1.5 0 1 0 5.8 0a2.9 1.5 0 1 0 -5.8 0z"/>
<path class="bs" d="M254.4 121.1v5h2.2v-5"/>
<path class="bh" d="M266.1 110.6a2.9 1.5 0 1 0 5.8 0a2.9 1.5 0 1 0 -5.8 0z"/>
<path class="bs" d="M267.9 112.1v5h2.2v-5"/>
<path class="bh" d="M752.1 208.2a2.9 1.5 0 1 0 5.8 0a2.9 1.5 0 1 0 -5.8 0z"/>
<path class="bs" d="M753.9 209.7v5h2.2v-5"/>
<path class="bh" d="M775.1 201.4a2.9 1.5 0 1 0 5.8 0a2.9 1.5 0 1 0 -5.8 0z"/>
<path class="bs" d="M776.9 202.9v5h2.2v-5"/>
<path class="bh" d="M381.1 209.0a2.9 1.5 0 1 0 5.8 0a2.9 1.5 0 1 0 -5.8 0z"/>
<path class="bs" d="M382.9 210.5v5h2.2v-5"/>
<path class="bh" d="M586.1 248.3a2.9 1.5 0 1 0 5.8 0a2.9 1.5 0 1 0 -5.8 0z"/>
<path class="bs" d="M587.9 249.8v5h2.2v-5"/>
<path class="bs" d="M335.4 117.6h2.4v2h-2.4z"/>
<path class="k" d="M335.4 119.6h2.2l-1.4 3.6"/>
<path class="bs" d="M824.0 202.2h2.4v2h-2.4z"/>
<path class="k" d="M824.0 204.2h2.2l-1.4 3.6"/>
<path class="f" d="M327.6 175.8a1.2 2.2 0 1 0 0.1 0z"/>
<path class="bs" d="M328.8 176.9h6.6v2.1h-6.6"/>
<path class="f" d="M893.6 288.2a1.1 2.1 0 1 0 0.1 0z"/>
<path class="bs" d="M892.6 289.4h-5.6v1.9h5.6"/>
<path class="k" d="M886.4 288.8l2.6 0.6"/>
<path class="bs" d="M350.6 197.5l1.8 0.3l-0.9 5l-1.8 -0.3z"/>
<path class="f" d="M349 202.2l2.6 0.4l-0.3 1.6l-2.6 -0.4z"/>
<path class="bs" d="M858.4 311l1.6 0.3l-1 5l-1.6 -0.3z"/>
<path class="f" d="M856.4 315.8l3 0.5l-0.3 1.5l-3 -0.5z"/>
<path class="bh" d="M390.8 223.2a2.3 2.3 0 1 0 4.6 0a2.3 2.3 0 1 0 -4.6 0z"/>
<path class="kk" d="M392 225.2l-4 5.2"/>
<path class="f" d="M560.6 253.6l4.6 -2.2l-0.6 3.4l3 5.4l-1.4 0.8l-3 -5.4z"/>
<path class="bh" d="M372.2 261.6l2.2 -2.6l1.6 0.8l-2 2.8z"/>
<path class="bh" d="M363.6 298.8l3.4 -1.4l1.4 1.2l-3.2 1.4z"/>
<path class="bh" d="M406.4 322.6l3 -1.8l1 1l-2.8 2z"/>
<path class="w" d="M374.1 308.2a1.7 1.7 0 1 0 3.4 0a1.7 1.7 0 1 0 -3.4 0z"/>
<path class="w" d="M565.9 342.4a1.7 1.7 0 1 0 3.4 0a1.7 1.7 0 1 0 -3.4 0z"/>
<path class="f" d="M260.8 377.6h3.4v2.4h-3.4z"/>
<path class="f" d="M266.6 415.6l2.8 -0.4l0.8 2.2l-2.6 1z"/>
<path class="bs" d="M644.2 445.2h3.6v2.2h-3.6z"/>
<path class="f" d="M643.6 445.2h1.6v2.2h-1.6z"/>
<path class="bs" d="M631.4 479.8h3.8v1.8h-3.8z"/>
<path class="f" d="M631.4 479.8h1.4v1.8h-1.4z"/>
<path class="f" d="M299 403.6l3 -1.4l3.6 1.6l-2 3.4l-2.6 -0.4z"/>
<path class="f" d="M293.6 413.4l2.6 0.6l2 -1.2l1 2.6l-2.8 1.4l-2.6 -1.4z"/>
<path class="f" d="M774.4 495.4l3.6 -1.2l3.8 1.4l-2 2.4h-4z"/>
<path class="t" d="M781.8 495.6l2.4 0.6l-2.6 1.8"/>
<path class="bh" d="M752.6 502.6l3.4 -1l3.6 1.6l-2.4 2.2l-3.8 -0.6z"/>
<path class="k" d="M755 503.4l2 0.6"/>
<path class="f" d="M336.7 510.3l1.3 1.6v2.6l1.8 3.2h-6.2l1.8 -3.2v-2.6z"/>
<path class="f" d="M363.0 524.6l1.3 1.6v2.6l1.8 3.2h-6.2l1.8 -3.2v-2.6z"/>
<path class="f" d="M329.1 561.2l1.3 1.6v2.6l1.8 3.2h-6.2l1.8 -3.2v-2.6z"/>
<path class="f" d="M334.7 559.6l1.3 1.6v2.6l1.8 3.2h-6.2l1.8 -3.2v-2.6z"/>
<path class="f" d="M409.4 582.8l1.3 1.6v2.6l1.8 3.2h-6.2l1.8 -3.2v-2.6z"/>
<path class="f" d="M482.3 596.4l1.3 1.6v2.6l1.8 3.2h-6.2l1.8 -3.2v-2.6z"/>
<path class="f" d="M544.6 608.0l1.3 1.6v2.6l1.8 3.2h-6.2l1.8 -3.2v-2.6z"/>
<path class="f" d="M617.5 618.0l1.3 1.6v2.6l1.8 3.2h-6.2l1.8 -3.2v-2.6z"/>
<path class="f" d="M696.3 623.0l1.3 1.6v2.6l1.8 3.2h-6.2l1.8 -3.2v-2.6z"/>
<path class="f" d="M714.5 629.2l1.3 1.6v2.6l1.8 3.2h-6.2l1.8 -3.2v-2.6z"/>
<path class="so" d="M675.3 572.0l1.1 1.6v3.2l1.7 2.6h-5.6l1.7 -2.6v-3.2z"/>
<path class="k" d="M675.3 574.0v3.4"/>
<path class="so" d="M742.5 574.8l1.1 1.6v3.2l1.7 2.6h-5.6l1.7 -2.6v-3.2z"/>
<path class="k" d="M742.5 576.8v3.4"/>
<path class="k" d="M344.4 188.9L357.4 166.5L359.7 165.6L363.3 167.7L365.0 170.6L368.6 171.8L367.1 177.1L363.9 177.4L363.4 181.0L362.7 188.6L360.9 188.6L351.5 189.7L349.7 188.6Z"/>
<path class="k2" d="M346.0 188.2L358.2 167.6"/>
<path class="f2" d="M357.4 167.4l2.4 -1.2l3.2 1.8l1.4 2.4l-0.8 1l-2.2 -1.4l-1.4 1l-1.8 -1.6l-1.6 0.4z"/>
<path class="k" d="M359.4 168.2L359.8 171.6"/>
<path class="k" d="M362.6 168.6L363.6 172.6"/>
<path class="k" d="M365.0 170.6L364.2 174.2L363.9 177.4"/>
<path class="k" d="M364.2 183.9a1.45 2.5 0 1 0 2.9 0a1.45 2.5 0 1 0 -2.9 0z"/>
<path class="f" d="M364.8 183.9a0.8 1.7 0 1 0 1.6 0a0.8 1.7 0 1 0 -1.6 0z"/>
<path class="k2" d="M349.7 188.6L351.0 184.6L352.7 180.9L355.0 179.0L357.4 178.6L359.2 179.2L360.3 180.3L360.8 184.0L360.9 188.6"/>
<path class="k" d="M355.4 176.6L358.6 178.2"/>
<path class="k" d="M356.3 180.4L356.2 182.8"/>
<path class="k2" d="M354.0 175.6L357.6 173.4L361.4 174.6"/>
<path class="t" d="M361.4 174.6L362.6 181.0"/>
<path class="k2" d="M379.7 288.9L380.0 287.8L383.9 285.6L387.8 283.9L392.8 281.9L395.0 281.1L398.3 282.8L401.1 286.1L402.8 289.4L405.0 290.6L410.0 290.8L411.4 293.3L411.4 300.0L409.4 301.9L403.9 300.0L398.3 297.8L393.9 297.2L388.3 299.2L383.3 296.7L380.0 293.3Z"/>
<path class="f" d="M386.6 284.6l5.8 -2.2l1.2 1.4l-5.6 2.2z"/>
<path class="kk" d="M381.0 287.6L387.0 287.4"/>
<path class="f" d="M389.2 288.4l3.4 -0.6l0.2 1.4l-3.2 0.8z"/>
<path class="kk" d="M392.8 293.3L398.3 296.7"/>
<path class="k" d="M398.3 296.7L404.0 299.0L409.2 301.2"/>
<path class="k2" d="M380.0 288.4L388.6 289.8L392.6 287.8"/>
<path class="t" d="M381.7 290.6L382.0 295.0L388.0 298.0L391.7 296.0L391.9 290.0"/>
<path class="t" d="M384.0 291.4L384.4 295.8"/>
<path class="k2" d="M388.6 289.8L388.4 298.4"/>
<path class="t" d="M394.2 285.6a3.4 3.4 0 0 1 6.2 1.6"/>
<path class="t" d="M392.8 288.6L393.4 293.2"/>
<path class="t" d="M402.8 289.4L401.6 292.6L396.0 293.4"/>
<path class="k2" d="M405.0 290.6L405.4 292.4L410.8 292.8"/>
<path class="k2" d="M578.4 322.9L583.0 319.6L587.1 318.1L595.0 317.6L598.6 317.5L602.2 318.1L604.6 322.9L605.2 333.1L602.2 336.1L599.2 336.7L592.5 332.5L580.5 331.9L578.4 330.7Z"/>
<path class="f" d="M582.3 321.8l4.6 -3l6.6 -0.5l3 0.2l-1.2 1.6l-4.6 1l-1.4 2.2l-4.6 0.2l-1 -2.2z"/>
<path class="f" d="M593.6 320.4l4.4 -1.6l0.6 1.2l-4.2 1.8z"/>
<path class="k" d="M578.6 324.4L590.6 325.6L593.0 332.4"/>
<path class="k2" d="M580.4 326.4L580.6 330.6L586.2 331.0L586.4 327.0"/>
<path class="k2" d="M590.6 325.6L595.0 321.6L599.0 319.0"/>
<path class="t" d="M600.4 319.4L601.4 323.4"/>
<path class="k" d="M578.6 331.0L580.5 332.0L592.5 332.6L599.2 336.7"/>
<path class="k3" d="M828.3 272.6L829.3 269.0L831.3 267.0L835.0 265.6L840.5 264.9L848.0 265.2L855.9 265.9L863.0 269.0L870.7 271.0L872.2 274.6L868.1 278.7L859.9 285.9L853.3 291.0L845.6 288.4L836.5 287.4L829.3 284.3L828.3 278.7Z"/>
<path class="k3" d="M828.8 274.6L832.0 276.4L835.4 277.2L845.6 277.4L859.9 276.7L864.0 274.6"/>
<path class="k2" d="M831.5 268.5L836.0 267.2L842.0 266.8L850.0 267.2L857.0 268.2L862.5 270.2"/>
<path class="k2" d="M834.9 267.5L838.0 275.6"/>
<path class="k2" d="M842.1 265.4L844.6 276.2"/>
<path class="k2" d="M848.7 265.9L851.8 282.8"/>
<path class="k2" d="M855.9 267.0L858.4 276.2"/>
<path class="t" d="M838.0 267.0L841.5 276.0"/>
<path class="t" d="M845.4 266.0L847.5 275.5"/>
<path class="t" d="M852.5 267.0L854.0 276.0"/>
<path class="t" d="M859.5 268.5L861.0 275.5"/>
<path class="t" d="M851.8 282.8L854.5 276.8"/>
<path class="k3" d="M836.5 287.4L836.3 277.6"/>
<path class="k2" d="M829.3 278.6L836.3 280.4"/>
<path class="t" d="M836.4 280.4L853.3 291.0"/>
<path class="t" d="M845.6 288.4L853.0 285.0L859.9 279.5"/>
<path class="f" d="M864 272.6l3.8 -1.4l2.4 0.6l0.3 2.8l-2.4 3l-4 0.5l1 -2.2l-1.6 -0.4z"/>
<path class="f" d="M861.8 279.4l2 -0.5l0.3 1.3l-1.8 0.8z"/>
<path class="k2" d="M841.4 264.2L844.0 264.0L844.2 265.4"/>
<path class="k2" d="M854.6 265.0L857.0 265.2L857.0 266.6"/>
<path class="k2" d="M848.2 264.6L850.4 264.6"/>
<g opacity="0.999">
<circle class="lc" cx="261" cy="74.5" r="9"/><text transform="translate(261 78.8) scale(1.05 1)">18</text>
<circle class="lc" cx="337.6" cy="89.5" r="9"/><text transform="translate(337.6 93.8) scale(1.05 1)">12</text>
<circle class="lc" cx="307" cy="114.5" r="9"/><text transform="translate(307 118.8) scale(1.05 1)">4</text>
<circle class="lc" cx="383" cy="119" r="9"/><text transform="translate(383 123.3) scale(1.05 1)">3</text>
<circle class="lc" cx="407.3" cy="191" r="9"/><text transform="translate(407.3 195.3) scale(1.05 1)">5</text>
<circle class="lc" cx="435.5" cy="208.8" r="9"/><text transform="translate(435.5 213.1) scale(1.05 1)">6</text>
<circle class="lc" cx="435.5" cy="238.8" r="9"/><text transform="translate(435.5 243.1) scale(1.05 1)">9</text>
<circle class="lc" cx="367.8" cy="278" r="9"/><text transform="translate(367.8 282.3) scale(1.05 1)">19</text>
<circle class="lc" cx="444.5" cy="285.8" r="9"/><text transform="translate(444.5 290.1) scale(1.05 1)">22</text>
<circle class="lc" cx="431.2" cy="310" r="9"/><text transform="translate(431.2 314.3) scale(1.05 1)">23</text>
<circle class="lc" cx="456.2" cy="331.2" r="9"/><text transform="translate(456.2 335.5) scale(1.05 1)">19</text>
<circle class="lc" cx="177.5" cy="348.8" r="9"/><text transform="translate(177.5 353.1) scale(1.05 1)">16</text>
<circle class="lc" cx="276.8" cy="347.8" r="9"/><text transform="translate(276.8 352.1) scale(1.05 1)">20</text>
<circle class="lc" cx="177" cy="384.2" r="9"/><text transform="translate(177 388.5) scale(1.05 1)">17</text>
<circle class="lc" cx="252.5" cy="458" r="9"/><text transform="translate(252.5 462.3) scale(1.05 1)">20</text>
<circle class="lc" cx="329.2" cy="415.8" r="9"/><text transform="translate(329.2 420.1) scale(1.05 1)">7</text>
<circle class="lc" cx="474.2" cy="483.5" r="9"/><text transform="translate(474.2 487.8) scale(1.05 1)">11</text>
<circle class="lc" cx="363" cy="579.5" r="9"/><text transform="translate(363 583.8) scale(1.05 1)">10</text>
<circle class="lc" cx="334.2" cy="612" r="9"/><text transform="translate(334.2 616.3) scale(1.05 1)">9</text>
<circle class="lc" cx="488.2" cy="664.5" r="9"/><text transform="translate(488.2 668.8) scale(1.05 1)">9</text>
<circle class="lc" cx="527.5" cy="254.8" r="9"/><text transform="translate(527.5 259.1) scale(1.05 1)">9</text>
<circle class="lc" cx="618.8" cy="249" r="9"/><text transform="translate(618.8 253.3) scale(1.05 1)">6</text>
<circle class="lc" cx="536.8" cy="311.2" r="9"/><text transform="translate(536.8 315.5) scale(1.05 1)">21</text>
<circle class="lc" cx="537.5" cy="342" r="9"/><text transform="translate(537.5 346.3) scale(1.05 1)">23</text>
<circle class="lc" cx="703.2" cy="219.8" r="9"/><text transform="translate(703.2 224.1) scale(1.05 1)">1</text>
<circle class="lc" cx="763" cy="170" r="9"/><text transform="translate(763 174.3) scale(1.05 1)">18</text>
<circle class="lc" cx="826.8" cy="175" r="9"/><text transform="translate(826.8 179.3) scale(1.05 1)">12</text>
<circle class="lc" cx="905.2" cy="259.2" r="9"/><text transform="translate(905.2 263.5) scale(1.05 1)">2</text>
<circle class="lc" cx="930.2" cy="291" r="9"/><text transform="translate(930.2 295.3) scale(1.05 1)">4</text>
<circle class="lc" cx="908" cy="318" r="9"/><text transform="translate(908 322.3) scale(1.05 1)">5</text>
<circle class="lc" cx="646.8" cy="421.5" r="9"/><text transform="translate(646.8 425.8) scale(1.05 1)">20</text>
<circle class="lc" cx="762.8" cy="439.5" r="9"/><text transform="translate(762.8 443.8) scale(1.05 1)">16</text>
<circle class="lc" cx="762.8" cy="472.5" r="9"/><text transform="translate(762.8 476.8) scale(1.05 1)">17</text>
<circle class="lc" cx="633.2" cy="504.5" r="9"/><text transform="translate(633.2 508.8) scale(1.05 1)">20</text>
<circle class="lc" cx="839.5" cy="496.8" r="9"/><text transform="translate(839.5 501.1) scale(1.05 1)">7</text>
<circle class="lc" cx="839.5" cy="528.2" r="9"/><text transform="translate(839.5 532.5) scale(1.05 1)">8</text>
<circle class="lc" cx="742.8" cy="615" r="9"/><text transform="translate(742.8 619.3) scale(1.05 1)">10</text>
<circle class="lc" cx="705.2" cy="677.5" r="9"/><text transform="translate(705.2 681.8) scale(1.05 1)">9</text>
</g>
</svg></body></html>
